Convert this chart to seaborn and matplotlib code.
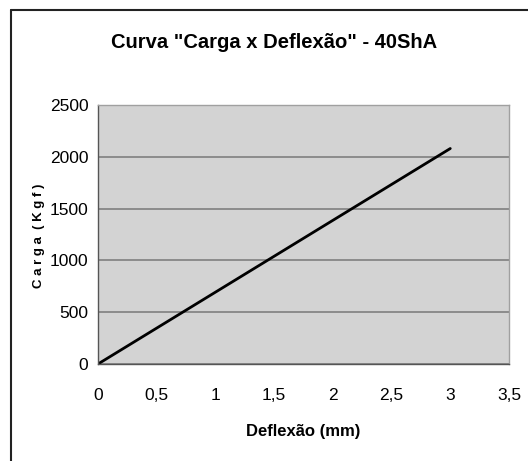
import matplotlib
matplotlib.use("Agg")
import matplotlib.pyplot as plt
import seaborn as sns
import pandas as pd
from matplotlib.lines import Line2D
from matplotlib.ticker import FuncFormatter

deflexao = [0.0, 3.0]
carga = [0, 2080]
x_ticks = [0, 0.5, 1, 1.5, 2, 2.5, 3, 3.5]
y_ticks = [0, 500, 1000, 1500, 2000, 2500]

df = pd.DataFrame({"Deflexão (mm)": deflexao, "Carga (Kgf)": carga})

sns.set_theme(style="white")
plt.rcParams['font.family'] = ['Liberation Sans', 'DejaVu Sans']
plt.rcParams['text.color'] = 'black'
plt.rcParams['axes.labelcolor'] = 'black'

W, H = 528, 461
fig = plt.figure(figsize=(W / 100, H / 100), dpi=100)
ax = fig.add_axes([98 / W, 1 - 364 / H, (509 - 98) / W, (364 - 105) / H])
ax.set_facecolor("#d3d3d3")

sns.lineplot(data=df, x="Deflexão (mm)", y="Carga (Kgf)", ax=ax, color="black", linewidth=2)

ax.set_xlim(0, 3.5)
ax.set_ylim(0, 2500)
ax.set_xticks(x_ticks)
ax.set_yticks(y_ticks)
ax.xaxis.set_major_formatter(FuncFormatter(lambda v, p: f"{v:g}".replace(".", ",")))
ax.yaxis.grid(True, color="#7f7f7f", linewidth=1.2)
ax.set_axisbelow(True)
for s in ["top", "right"]:
    ax.spines[s].set_color("#a0a0a0")
    ax.spines[s].set_linewidth(1)
for s in ["left", "bottom"]:
    ax.spines[s].set_color("#555555")
    ax.spines[s].set_linewidth(1)
ax.tick_params(axis="both", direction="out", length=4, width=1, color="#555555",
               labelsize=12.5, labelcolor="black")
ax.tick_params(axis="y", pad=3)
ax.tick_params(axis="x", pad=13)
ax.set_xlabel("Deflexão (mm)", fontsize=12, fontweight="bold", va="center", color="black")
ax.xaxis.set_label_coords(0.5, -0.259)
ax.set_ylabel("C a r g a  ( K g f )", fontsize=9.5, fontweight="bold", va="center", color="black")
ax.yaxis.set_label_coords(-0.143, 0.495)

fig.text(274 / W, 1 - 42 / H, 'Curva "Carga x Deflexão" - 40ShA', ha="center", va="center",
         fontsize=14.5, fontweight="bold", color="black")

# figure frame (top and left edges)
fig.add_artist(Line2D([11 / W, 1], [1 - 10 / H, 1 - 10 / H], color="#222222", linewidth=1.5, transform=fig.transFigure))
fig.add_artist(Line2D([11 / W, 11 / W], [0, 1 - 10 / H], color="#222222", linewidth=1.5, transform=fig.transFigure))

fig.savefig("out.png", dpi=100)
